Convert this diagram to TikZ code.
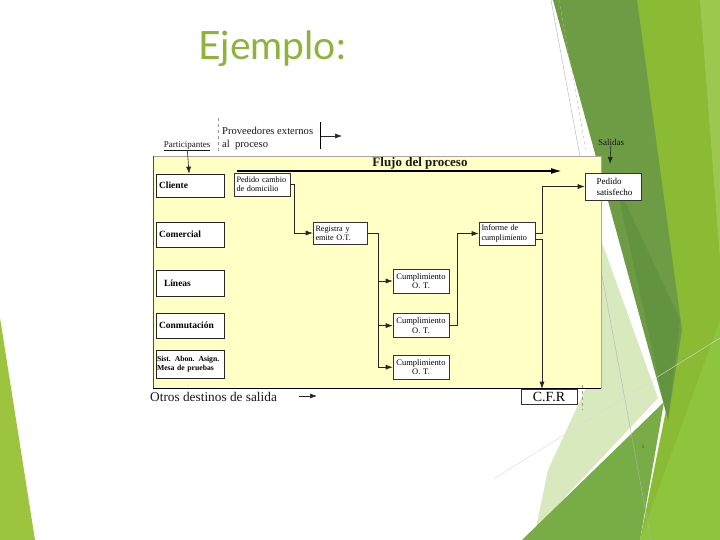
\documentclass[tikz,border=0pt]{standalone}
\usepackage{fontspec}
\setmainfont{Liberation Serif}
\newfontfamily\titlefont{Lato}
\usepackage{xcolor}
\usetikzlibrary{arrows.meta,positioning}
\definecolor{titlegreen}{HTML}{8DB33A}
\definecolor{flowyellow}{HTML}{FFFFC6}
\definecolor{facetdark}{HTML}{6D9C45}
\definecolor{facetdeep}{HTML}{62933F}
\definecolor{facetbright}{HTML}{8BBA34}
\definecolor{facetlight}{HTML}{9DC850}
\definecolor{facetlime}{HTML}{8DC53F}
\definecolor{facetmid}{HTML}{77AC46}
\definecolor{facetpale}{HTML}{D8E9BE}
\definecolor{facetleft}{HTML}{9DC43E}

\begin{document}
\begin{tikzpicture}[x=1pt, y=-1pt, >={Latex[length=7pt,width=5pt]},
  partbox/.style={draw=black!85, fill=white, line width=0.7pt, minimum width=68pt, text width=62pt, align=left, font=\fontsize{9.5}{10.5}\selectfont\bfseries, inner xsep=3pt, inner ysep=2pt},
  procbox/.style={draw=black!80, fill=white, line width=0.6pt, minimum width=56pt, text width=51pt, align=left, font=\fontsize{8.2}{9.2}\selectfont, inner xsep=2.5pt, inner ysep=2pt},
  conn/.style={draw=black!85, line width=0.6pt},
  plain/.style={inner sep=0pt, text=black!90}]
\useasboundingbox (0,0) rectangle (720,540);
\fill[white] (0,0) rectangle (720,540);
% slide background
\fill[facetleft] (0,318) -- (0,540) -- (35,540) -- cycle;
\fill[facetbright] (628,0) -- (720,0) -- (720,540) -- (640,540) -- (668,400) -- cycle;
\fill[facetlight] (700,0) -- (720,0) -- (720,260) -- cycle;
\fill[facetdark] (553,0) -- (637,0) -- (682,330) -- (668,420) -- cycle;
\fill[facetdeep] (615,180) -- (680,320) -- (668,420) -- cycle;
\fill[facetpale] (601,240) -- (658,398) -- (536,528) -- (548,470) -- (585,390) -- cycle;
\fill[facetmid] (522,540) -- (664,402) -- (640,540) -- cycle;
\fill[facetlime] (720,320) -- (720,540) -- (640,540) -- cycle;
\draw[black!30, line width=0.4pt] (551,0) -- (651,540);
\draw[black!15, line width=0.4pt] (495,478) -- (720,338);
\draw[black!30, dashed, line width=0.4pt] (559,0) -- (586,150);
% title
\node[plain, anchor=base, font=\titlefont\fontsize{39}{39}\selectfont, text=titlegreen] (title) at (272,60) {Ejemplo:};
% process frame
\draw[black!35, fill=flowyellow, line width=0.5pt] (153,156) rectangle (601,388);
\draw[black!70, line width=0.8pt] (153,156) -- (153,388);
\draw[black, line width=0.9pt] (153,388) -- (601,388);
\draw[black!40, dashed, line width=0.5pt] (218,118) -- (218,153);
\draw[black!40, dashed, line width=0.5pt] (582,385) -- (582,410);
% headings
\node[plain, font=\fontsize{9}{10}\selectfont] (partic) at (187,146) {\underline{Participantes}};
\node[plain, anchor=west, align=left, font=\fontsize{10.6}{13}\selectfont] (proveed) at (222,138) {Proveedores externos\\al\ \ proceso};
\coordinate (barT) at (320,122);
\coordinate (barB) at (320,149);
\coordinate (provA) at (321,136);
\coordinate (provB) at (342,136);
\node[plain, font=\fontsize{13}{14}\selectfont\bfseries] (flujo) at (420,164) {\underline{Flujo del proceso}};
\coordinate (flowA) at (237,171);
\coordinate (flowB) at (562,171);
\node[plain, font=\fontsize{9}{10}\selectfont] (salidas) at (611,142) {Salidas};
\coordinate (salidasB) at (610,164);
\node[plain, anchor=west, font=\fontsize{13.3}{14}\selectfont] (otros) at (150,397) {Otros destinos de salida};
\coordinate (otrosA) at (299,396);
\coordinate (otrosB) at (317,396);
% participants
\node[partbox, minimum height=23pt] (cliente) at (190,185.5) {Cliente};
\node[partbox, minimum height=25pt] (comercial) at (190,234.5) {Comercial};
\node[partbox, minimum height=26pt] (lineas) at (190,283) {\hspace{5pt}Líneas};
\node[partbox, minimum height=28pt, font=\fontsize{7.7}{9.5}\selectfont\bfseries, inner xsep=1pt, text width=66pt] (sist) at (190,364) {Sist. Abon. Asign.\\Mesa de pruebas};
\node[partbox, minimum height=25pt] (conmut) at (190,325.5) {Conmutación};
% process steps
\node[procbox, minimum height=23pt] (pedido) at (262,184.5) {Pedido cambio\\de domicilio};
\node[procbox, minimum height=22pt, minimum width=54pt, text width=49pt] (registra) at (340,233) {Registra y\\emite O.T.};
\node[procbox, minimum height=24pt, align=center, font=\fontsize{8.5}{9.5}\selectfont] (cumplA) at (421,281) {Cumplimiento\\O. T.};
\node[procbox, minimum height=24pt, align=center, font=\fontsize{8.5}{9.5}\selectfont, below=20pt of cumplA] (cumplB) {Cumplimiento\\O. T.};
\node[procbox, minimum height=24pt, align=center, font=\fontsize{8.5}{9.5}\selectfont, below=17pt of cumplB] (cumplC) {Cumplimiento\\O. T.};
\node[procbox, minimum height=23pt] (informe) at (507,233.5) {Informe de\\cumplimiento};
\node[procbox, minimum height=27pt, font=\fontsize{9}{11}\selectfont] (satisf) at (613,186.5) {\hspace{9pt}Pedido\\\hspace{9pt}satisfecho};
\node[procbox, minimum height=15pt, align=center, font=\fontsize{14}{14}\selectfont, inner sep=0pt] (cfr) at (549,396.5) {C.F.R};
\node[plain, font=\fontsize{5}{5}\selectfont, text=black!70] (pagenum) at (643,447) {5};
% connectors
\draw[conn, ->] (partic) -- (cliente);
\draw[black, line width=0.8pt] (barT) -- (barB);
\draw[conn, ->] (provA) -- (provB);
\draw[black, line width=1.6pt, -{Latex[length=11pt,width=6pt]}] (flowA) -- (flowB);
\draw[conn, ->] (salidas) -- (salidasB);
\draw[conn, ->] (otrosA) -- (otrosB);
\draw[conn, ->] (pedido.east) -- ++(4,0) |- (registra.west);
\coordinate (splitA) at (378,233);
\draw[conn] (registra.east) -- (splitA) -- (splitA |- cumplC.west);
\draw[conn, ->] (splitA |- cumplA.west) -- (cumplA.west);
\draw[conn, ->] (splitA |- cumplB.west) -- (cumplB.west);
\draw[conn, ->] (splitA |- cumplC.west) -- (cumplC.west);
\draw[conn, ->] (cumplB.east) -- ++(8,0) |- (informe.west);
\draw[conn, ->] (informe.east) -- ++(7,0) |- (satisf.west);
\draw[conn, ->] ([yshift=-6pt]informe.east) -| ([xshift=-7pt]cfr.north);
\end{tikzpicture}
\end{document}
